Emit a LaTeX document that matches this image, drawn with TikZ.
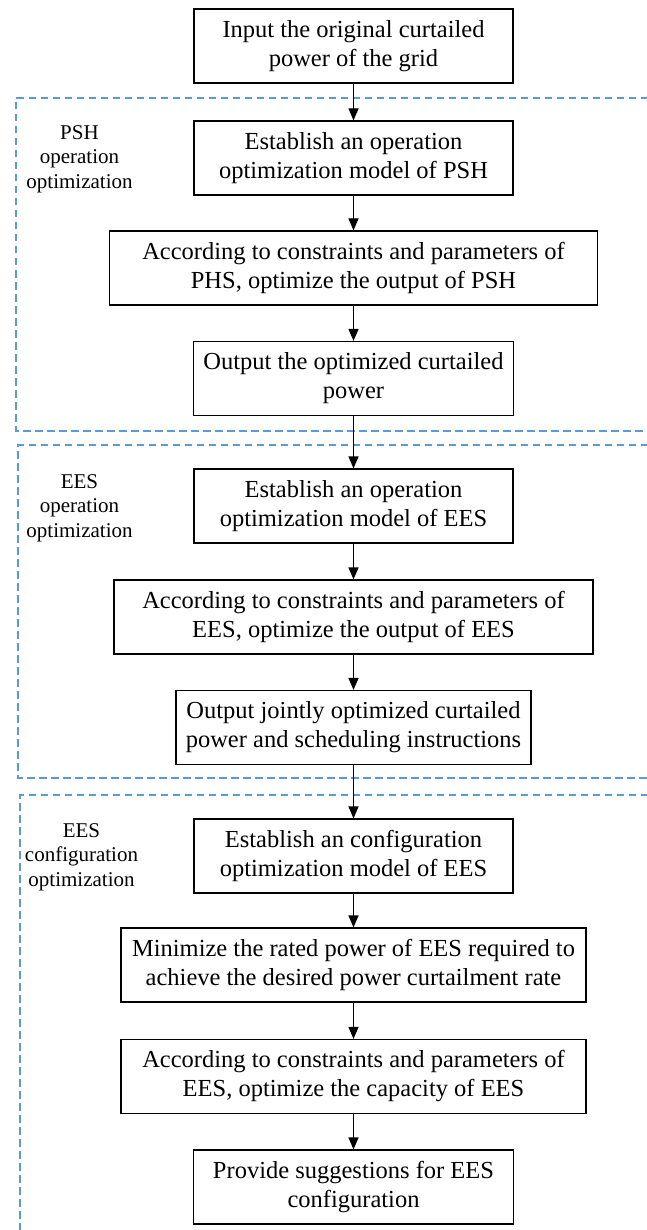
\documentclass[tikz,border=0pt]{standalone}
\usepackage{fontspec}
\setmainfont{Liberation Serif}
\usetikzlibrary{arrows.meta}
\definecolor{frameblue}{RGB}{91,155,213}
\tikzset{
  stepbox/.style={draw=black, line width=1.2pt, inner sep=0pt, align=center,
    minimum height=74pt, font=\fontsize{24.5}{29}\selectfont},
  grouplabel/.style={align=center, inner sep=0pt, font=\fontsize{21}{24.5}\selectfont},
  arr/.style={-{Triangle[length=12pt,width=10pt]}, line width=1.2pt, black},
  frame/.style={draw=frameblue, line width=1.3pt, dash pattern=on 7.5pt off 4.5pt}
}
\begin{document}
\begin{tikzpicture}[x=1pt,y=-1pt]
\useasboundingbox (0,0) rectangle (647,1230);
% group frames (open to the right)
\draw[frame] (660,98) -- (16,98) -- (16,431) -- (660,431);
\draw[frame] (660,445) -- (18,445) -- (18,778) -- (660,778);
\draw[frame] (660,795) -- (20,795) -- (20,1240);
% group labels
\node[grouplabel] (l1) at (79.5,159) {PSH\\operation\\optimization};
\node[grouplabel] (l2) at (79.5,508) {EES\\operation\\optimization};
\node[grouplabel] (l3) at (81.5,857) {EES\\configuration\\optimization};
% steps
\node[stepbox, minimum width=319pt] (b1) at (353.5,46) {Input the original curtailed\\power of the grid};
\node[stepbox, minimum width=319pt] (b2) at (353.5,158) {Establish an operation\\optimization model of PSH};
\node[stepbox, minimum width=488pt] (b3) at (353.5,268) {According to constraints and parameters of\\PHS, optimize the output of PSH};
\node[stepbox, minimum width=320pt] (b4) at (353.5,378.5) {Output the optimized curtailed\\power};
\node[stepbox, minimum width=319pt] (b5) at (353.5,506) {Establish an operation\\optimization model of EES};
\node[stepbox, minimum width=479pt] (b6) at (353.5,617) {According to constraints and parameters of\\EES, optimize the output of EES};
\node[stepbox, minimum width=355pt] (b7) at (353.5,727.5) {Output jointly optimized curtailed\\power and scheduling instructions};
\node[stepbox, minimum width=319pt] (b8) at (353.5,856) {Establish an configuration\\optimization model of EES};
\node[stepbox, minimum width=465pt] (b9) at (353.5,965) {Minimize the rated power of EES required to\\achieve the desired power curtailment rate};
\node[stepbox, minimum width=465pt] (b10) at (353.5,1076.5) {According to constraints and parameters of\\EES, optimize the capacity of EES};
\node[stepbox, minimum width=320pt] (b11) at (353.5,1187) {Provide suggestions for EES\\configuration};
% connectors
\foreach \a/\b in {b1/b2,b2/b3,b3/b4,b4/b5,b5/b6,b6/b7,b7/b8,b8/b9,b9/b10,b10/b11}
  \draw[arr] (\a.south) -- (\b.north);
\end{tikzpicture}
\end{document}
